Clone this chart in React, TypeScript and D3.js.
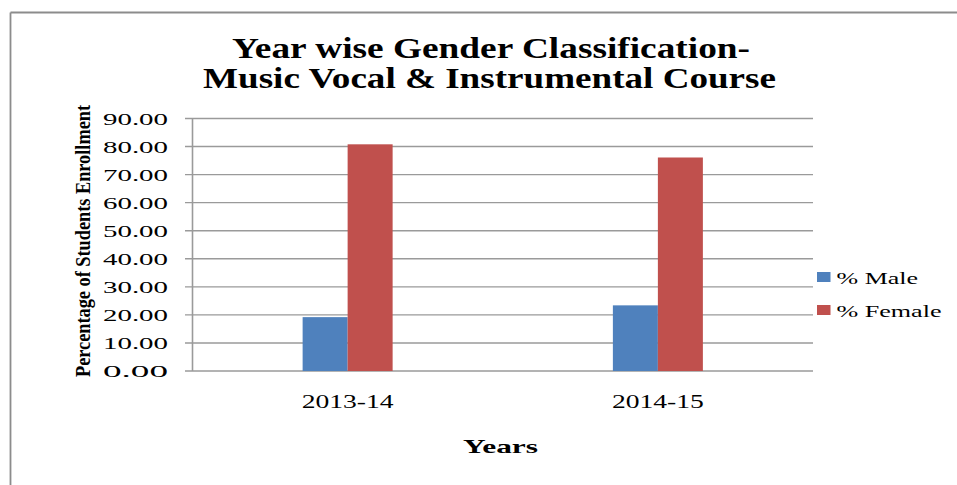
import React from "react";
import * as d3 from "d3";

const categories = ["2013-14", "2014-15"];
const seriesNames = ["% Male", "% Female"];
const maleValues = [19.2, 23.4];
const femaleValues = [80.8, 76.1];
const yTicks = [0, 10, 20, 30, 40, 50, 60, 70, 80, 90];
const titleLines = ["Year wise Gender Classification-", "Music Vocal & Instrumental Course"];
const colors = ["#4F81BD", "#C0504D"];

const W = 957;
const H = 485;
const plot = { left: 192.5, right: 813, top: 118.5, bottom: 371 };
const serif = "'Liberation Serif', 'Times New Roman', serif";

export default function App() {
  const x = d3.scaleBand<string>().domain(categories).range([plot.left, plot.right]);
  const y = d3.scaleLinear().domain([0, 90]).range([plot.bottom, plot.top]);
  const inner = d3.scaleBand<string>().domain(seriesNames).range([0, 90]);
  const series = [maleValues, femaleValues];

  return (
    <svg width={W} height={H} style={{ position: "absolute", left: 0, top: 0, background: "#fff" }}>
      <rect x={0} y={0} width={W} height={H} fill="#fff" />
      {/* outer frame */}
      <line x1={10.5} y1={12.5} x2={W} y2={12.5} stroke="#8c8c8c" strokeWidth={1.8} />
      <line x1={10.5} y1={12.5} x2={10.5} y2={H} stroke="#8c8c8c" strokeWidth={1.8} />

      {/* title */}
      {titleLines.map((t, i) => (
        <text
          key={t}
          x={i === 0 ? 491 : 489.5}
          y={i === 0 ? 58 : 88}
          textAnchor="middle"
          fontFamily={serif}
          fontWeight="bold"
          fontSize={29}
          textLength={i === 0 ? 518 : 573}
          lengthAdjust="spacingAndGlyphs"
          fill="#000"
        >
          {t}
        </text>
      ))}

      {/* gridlines and ticks */}
      {yTicks.map((v) => (
        <g key={v}>
          <line x1={185} x2={plot.right} y1={y(v)} y2={y(v)} stroke="#9a9a9a" strokeWidth={1.4} />
          <text
            x={168}
            y={y(v) + 6}
            textAnchor="end"
            fontFamily={serif}
            fontSize={17}
            textLength={65}
            lengthAdjust="spacingAndGlyphs"
            fill="#000"
          >
            {v.toFixed(2)}
          </text>
        </g>
      ))}
      <line x1={plot.left} x2={plot.left} y1={plot.top} y2={plot.bottom} stroke="#9a9a9a" strokeWidth={1.6} />

      {/* bars */}
      {categories.map((c, ci) => {
        const cx = (x(c) as number) + x.bandwidth() / 2 - 45;
        return (
          <g key={c}>
            {seriesNames.map((s, si) => (
              <rect
                key={s}
                x={cx + (inner(s) as number)}
                y={y(series[si][ci])}
                width={inner.bandwidth()}
                height={plot.bottom - y(series[si][ci])}
                fill={colors[si]}
              />
            ))}
            <text
              x={(x(c) as number) + x.bandwidth() / 2}
              y={408}
              textAnchor="middle"
              fontFamily={serif}
              fontSize={18}
              textLength={92}
              lengthAdjust="spacingAndGlyphs"
              fill="#000"
            >
              {c}
            </text>
          </g>
        );
      })}

      {/* axis titles */}
      <text
        x={500.5}
        y={453}
        textAnchor="middle"
        fontFamily={serif}
        fontWeight="bold"
        fontSize={19}
        textLength={75}
        lengthAdjust="spacingAndGlyphs"
        fill="#000"
      >
        Years
      </text>
      <text
        transform={`translate(90,241) rotate(-90)`}
        textAnchor="middle"
        fontFamily={serif}
        fontWeight="bold"
        fontSize={21}
        textLength={272}
        lengthAdjust="spacingAndGlyphs"
        fill="#000"
      >
        Percentage of Students Enrollment
      </text>

      {/* legend */}
      {seriesNames.map((s, i) => (
        <g key={s}>
          <rect x={817} y={i === 0 ? 272 : 305} width={13.5} height={10} fill={colors[i]} />
          <text
            x={836.5}
            y={i === 0 ? 283.5 : 316.5}
            fontFamily={serif}
            fontSize={17}
            textLength={i === 0 ? 81.5 : 105}
            lengthAdjust="spacingAndGlyphs"
            fill="#000"
          >
            {s}
          </text>
        </g>
      ))}
    </svg>
  );
}
